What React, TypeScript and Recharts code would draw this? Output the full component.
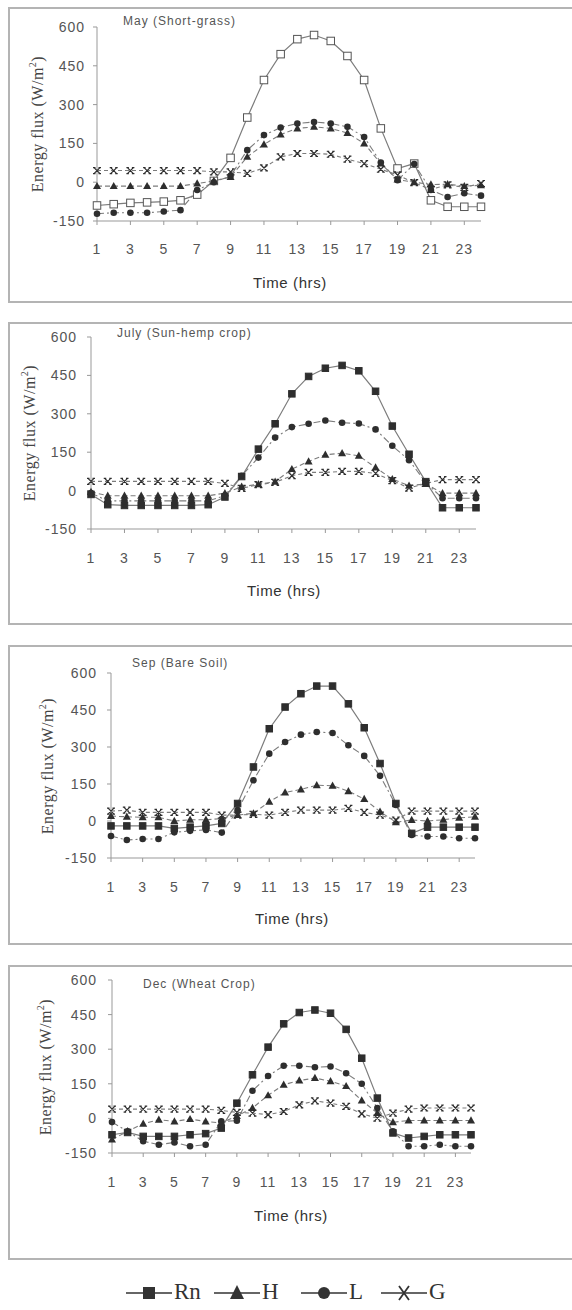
import { LineChart, Line, XAxis, YAxis } from 'recharts';

// hours on the x axis
const HOURS = [1, 2, 3, 4, 5, 6, 7, 8, 9, 10, 11, 12, 13, 14, 15, 16, 17, 18, 19, 20, 21, 22, 23, 24];
const X_TICKS = [1, 3, 5, 7, 9, 11, 13, 15, 17, 19, 21, 23];
const Y_TICKS = [-150, 0, 150, 300, 450, 600];

const TITLES = ['May (Short-grass)', 'July (Sun-hemp crop)', 'Sep (Bare Soil)', 'Dec (Wheat Crop)'];

// May (short grass)
const MAY_RN = [-90, -85, -80, -78, -75, -70, -48, 5, 94, 250, 395, 495, 553, 569, 546, 488, 395, 208, 53, 72, -70, -95, -95, -95];
const MAY_H = [-15, -15, -15, -15, -15, -15, -5, 5, 20, 98, 146, 184, 208, 214, 208, 190, 150, 72, 10, 0, -9, -8, -15, -12];
const MAY_L = [-122, -118, -118, -118, -113, -108, -30, 0, 24, 124, 182, 211, 227, 233, 227, 214, 175, 76, 8, 70, -30, -57, -43, -52];
const MAY_G = [45, 45, 45, 45, 45, 45, 45, 40, 40, 34, 55, 98, 111, 111, 108, 89, 72, 50, 28, -2, -28, -10, -20, -5];

// July (sun-hemp crop)
const JUL_RN = [-15, -55, -58, -58, -58, -58, -58, -55, -25, 55, 162, 261, 378, 446, 478, 489, 468, 388, 252, 142, 35, -67, -67, -67];
const JUL_H = [-5, -20, -20, -20, -20, -20, -20, -20, -10, 15, 25, 35, 84, 114, 140, 146, 136, 90, 45, 19, 26, -10, -10, -10];
const JUL_L = [-10, -40, -40, -40, -40, -40, -40, -40, -20, 58, 129, 207, 248, 261, 274, 265, 262, 239, 175, 119, 32, -30, -30, -30];
const JUL_G = [36, 36, 36, 36, 36, 36, 36, 36, 28, 9, 23, 32, 58, 71, 71, 75, 75, 67, 39, 10, 28, 43, 43, 43];

// Sep (bare soil)
const SEP_RN = [-20, -20, -20, -20, -30, -25, -20, -10, 71, 219, 374, 462, 516, 547, 547, 475, 378, 233, 71, -50, -25, -25, -25, -25];
const SEP_H = [20, 17, 15, 15, 0, 5, 5, 10, 24, 31, 78, 116, 128, 145, 143, 121, 89, 38, -5, 4, 0, 5, 13, 17];
const SEP_L = [-61, -77, -73, -73, -46, -40, -36, -47, 44, 165, 273, 320, 350, 361, 357, 307, 264, 183, 65, -57, -63, -63, -70, -70];
const SEP_G = [40, 44, 35, 35, 35, 35, 35, 24, 24, 27, 24, 35, 44, 44, 44, 51, 35, 24, 4, 40, 40, 40, 40, 40];

// Dec (wheat crop)
const DEC_RN = [-71, -61, -78, -78, -78, -71, -66, -42, 66, 189, 309, 410, 459, 470, 456, 386, 261, 88, -63, -85, -78, -71, -71, -71];
const DEC_H = [-92, -56, -23, -6, -13, -3, -13, -20, 10, 45, 100, 146, 164, 175, 161, 140, 78, 23, -17, -9, -9, -9, -9, -9];
const DEC_L = [-16, -56, -99, -114, -104, -121, -114, -13, -10, 120, 184, 228, 228, 222, 225, 196, 150, 45, -56, -121, -121, -114, -121, -121];
const DEC_G = [40, 40, 40, 40, 40, 40, 40, 35, 26, 23, 16, 30, 59, 76, 66, 52, 20, 1, 23, 40, 45, 45, 45, 45];

const SERIES = [
  [MAY_RN, MAY_H, MAY_L, MAY_G],
  [JUL_RN, JUL_H, JUL_L, JUL_G],
  [SEP_RN, SEP_H, SEP_L, SEP_G],
  [DEC_RN, DEC_H, DEC_L, DEC_G],
];

// page layout of each panel (px)
const LAYOUT = [
  { top: 7, bottom: 303, plotTop: 27, plotBottom: 221, plotLeft: 97, plotRight: 481, yGap: 8, xGap: 19, titleX: 123, titleY: 21, xLabel: [290, 282], yLabelX: 37 },
  { top: 322, bottom: 625, plotTop: 337, plotBottom: 529, plotLeft: 91, plotRight: 476, yGap: 10, xGap: 20, titleX: 117, titleY: 333, xLabel: [284, 590], yLabelX: 29 },
  { top: 645, bottom: 945, plotTop: 673, plotBottom: 858, plotLeft: 111, plotRight: 475, yGap: 10, xGap: 20, titleX: 132, titleY: 663, xLabel: [292, 918], yLabelX: 47 },
  { top: 965, bottom: 1260, plotTop: 980, plotBottom: 1153, plotLeft: 112, plotRight: 471, yGap: 11, xGap: 20, titleX: 143, titleY: 984, xLabel: [291, 1215], yLabelX: 45 },
];

const W = 572;
const Y_AXIS_W = 50;
const X_AXIS_H = 40;
const MARK = '#2e2e2e';
const LINE = '#7c7c7c';
const SANS = '"Liberation Sans", Arial, sans-serif';
const SERIF = '"Liberation Serif", "Times New Roman", serif';

function squareDot(hollow: boolean) {
  return (p: any) => {
    const { cx, cy, index } = p;
    if (!Number.isFinite(cx) || !Number.isFinite(cy)) return <g key={`s${index}`} />;
    const s = hollow ? 7.5 : 6.5;
    return (
      <rect key={`s${index}`} x={cx - s / 2} y={cy - s / 2} width={s} height={s}
        fill={hollow ? '#fff' : MARK} stroke={hollow ? '#555' : MARK} strokeWidth={1} />
    );
  };
}

const triangleDot = (p: any) => {
  const { cx, cy, index } = p;
  if (!Number.isFinite(cx) || !Number.isFinite(cy)) return <g key={`t${index}`} />;
  return <polygon key={`t${index}`} points={`${cx},${cy - 4.2} ${cx - 4},${cy + 3} ${cx + 4},${cy + 3}`} fill={MARK} />;
};

const circleDot = (p: any) => {
  const { cx, cy, index } = p;
  if (!Number.isFinite(cx) || !Number.isFinite(cy)) return <g key={`c${index}`} />;
  return <circle key={`c${index}`} cx={cx} cy={cy} r={3.3} fill={MARK} />;
};

const crossDot = (p: any) => {
  const { cx, cy, index } = p;
  if (!Number.isFinite(cx) || !Number.isFinite(cy)) return <g key={`x${index}`} />;
  const d = `M${cx - 3},${cy - 3}L${cx + 3},${cy + 3}M${cx + 3},${cy - 3}L${cx - 3},${cy + 3}` +
    `M${cx - 4},${cy - 3}H${cx - 1.5}M${cx + 1.5},${cy - 3}H${cx + 4}` +
    `M${cx - 4},${cy + 3}H${cx - 1.5}M${cx + 1.5},${cy + 3}H${cx + 4}`;
  return <path key={`x${index}`} d={d} stroke={MARK} strokeWidth={1.2} fill="none" />;
};

function Panel({ idx }: { idx: number }) {
  const lay = LAYOUT[idx];
  const [rn, h, l, g] = SERIES[idx];
  const rows = HOURS.map((hour, i) => ({ hour, Rn: rn[i], H: h[i], L: l[i], G: g[i] }));
  const height = lay.bottom - lay.top;
  const tickStyle = { fill: '#555', fontSize: 14, fontFamily: SANS, letterSpacing: 1 };
  return (
    <div style={{ position: 'absolute', left: 0, top: lay.top, width: W, height }}>
      <LineChart
        width={W}
        height={height}
        data={rows}
        margin={{
          top: lay.plotTop - lay.top,
          right: W - lay.plotRight,
          bottom: lay.bottom - lay.plotBottom - X_AXIS_H,
          left: lay.plotLeft - Y_AXIS_W,
        }}
      >
        <XAxis dataKey="hour" type="number" domain={[1, 24]} ticks={X_TICKS} height={X_AXIS_H}
          tickSize={4} tickMargin={lay.xGap} interval={0}
          axisLine={{ stroke: '#999' }} tickLine={{ stroke: '#999' }} tick={tickStyle} />
        <YAxis type="number" domain={[-150, 600]} ticks={Y_TICKS} width={Y_AXIS_W}
          tickSize={4} tickMargin={lay.yGap} interval={0}
          axisLine={{ stroke: '#999' }} tickLine={{ stroke: '#999' }} tick={tickStyle} />
        <Line dataKey="Rn" stroke={LINE} strokeWidth={1.2} dot={squareDot(idx === 0)} activeDot={false} isAnimationActive={false} />
        <Line dataKey="H" stroke={LINE} strokeWidth={1.1} strokeDasharray="5 3" dot={triangleDot} activeDot={false} isAnimationActive={false} />
        <Line dataKey="L" stroke={LINE} strokeWidth={1.1} strokeDasharray="7 3 2 3" dot={circleDot} activeDot={false} isAnimationActive={false} />
        <Line dataKey="G" stroke={LINE} strokeWidth={1.1} strokeDasharray="4 3" dot={crossDot} activeDot={false} isAnimationActive={false} />
      </LineChart>
    </div>
  );
}

function LegendItem({ x, label, kind }: { x: number; label: string; kind: string }) {
  const c = 24;
  return (
    <div style={{ position: 'absolute', left: x, top: 1278, height: 28, display: 'flex', alignItems: 'center' }}>
      <svg width={48} height={24}>
        <line x1={1} y1={13} x2={47} y2={13} stroke="#333" strokeWidth={1.5} />
        {kind === 'sq' && <rect x={c - 6} y={7} width={12} height={12} fill="#333" />}
        {kind === 'tri' && <polygon points={`${c},5 ${c - 7},19 ${c + 7},19`} fill="#333" />}
        {kind === 'cir' && <circle cx={c} cy={13} r={6} fill="#333" />}
        {kind === 'x' && (
          <path d={`M${c - 5},6L${c + 5},20M${c + 5},6L${c - 5},20`} stroke="#333" strokeWidth={1.8} fill="none" />
        )}
      </svg>
      <span style={{ fontFamily: SERIF, fontSize: 23, color: '#333', marginLeft: 1 }}>{label}</span>
    </div>
  );
}

export default function App() {
  return (
    <div style={{ position: 'absolute', left: 0, top: 0, width: W, height: 1310, background: '#fff', overflow: 'hidden' }}>
      {LAYOUT.map((lay, i) => (
        <div key={`box${i}`} style={{
          position: 'absolute', left: 8, top: lay.top, width: 600, height: lay.bottom - lay.top - 4,
          border: '2px solid #b4b4b4',
        }} />
      ))}
      {LAYOUT.map((lay, i) => <Panel key={`p${i}`} idx={i} />)}
      {LAYOUT.map((lay, i) => (
        <div key={`t${i}`}>
          <div style={{
            position: 'absolute', left: lay.titleX, top: lay.titleY - 8, fontFamily: SANS, fontSize: 12,
            letterSpacing: 1, color: '#555', whiteSpace: 'nowrap', lineHeight: '16px',
          }}>{TITLES[i]}</div>
          <div style={{
            position: 'absolute', left: lay.xLabel[0], top: lay.xLabel[1], transform: 'translate(-50%, -50%)',
            fontFamily: SANS, fontSize: 15, letterSpacing: 0.6, color: '#333', whiteSpace: 'nowrap',
          }}>Time (hrs)</div>
          <div style={{
            position: 'absolute', left: lay.yLabelX, top: (lay.plotTop + lay.plotBottom) / 2,
            transform: 'translate(-50%, -50%) rotate(-90deg)', fontFamily: SERIF, fontSize: 16,
            letterSpacing: 0.5, color: '#444', whiteSpace: 'nowrap',
          }}>Energy flux (W/m<sup style={{ fontSize: 10 }}>2</sup>)</div>
        </div>
      ))}
      <LegendItem x={125} label="Rn" kind="sq" />
      <LegendItem x={213} label="H" kind="tri" />
      <LegendItem x={300} label="L" kind="cir" />
      <LegendItem x={380} label="G" kind="x" />
    </div>
  );
}
